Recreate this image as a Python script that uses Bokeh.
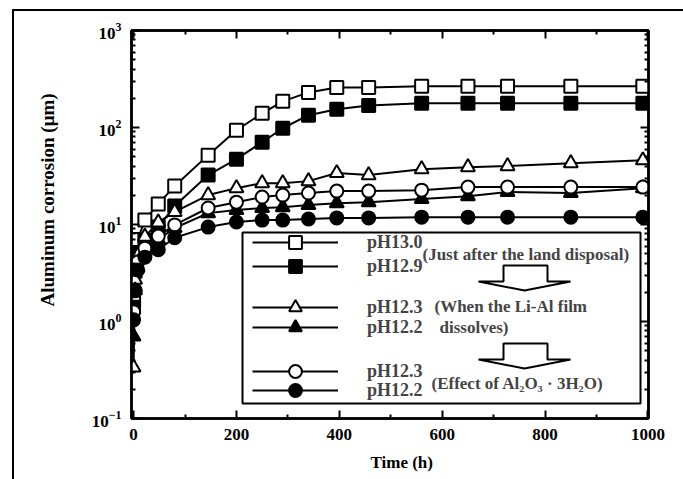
import math
from bokeh.plotting import figure
from bokeh.models import (Legend, LegendItem, Label, PolyAnnotation, FixedTicker,
                          LinearAxis, LogAxis, InlineStyleSheet, Title)
from bokeh.embed import file_html
from bokeh.resources import INLINE

# ---------------- data ----------------
time_h = [0, 3, 8, 22, 48, 80, 145, 200, 250, 290, 340, 395, 457, 560, 650, 727, 850, 990]

ph130_open_sq = [1.7, 4.2, 7.0, 11.1, 16.3, 24.9, 51.9, 93.7, 140, 186, 230, 259, 259, 266, 266, 266, 266, 266]
ph129_fill_sq = [1.4, 3.3, 4.9, 6.9, 9.4, 15.5, 32.3, 47.2, 70.5, 98.2, 134, 154, 169, 178, 178, 178, 178, 178]
ph123_open_tri = [0.335, 2.7, 4.8, 7.5, 10.5, 13.5, 20.1, 23.7, 26.7, 26.7, 28.0, 33.9, 32.3, 37.2, 39.0, 40.0, 42.9, 46.0]
ph122_fill_tri = [0.70, 2.1, 3.6, 5.3, 7.0, 9.2, 13.1, 14.1, 14.8, 15.1, 15.9, 16.6, 17.0, 18.3, 19.6, 21.6, 21.1, 23.7]
ph123_open_cir = [1.26, 2.07, 4.1, 5.7, 7.6, 9.9, 14.8, 17.0, 19.2, 20.1, 21.1, 22.1, 22.1, 22.6, 24.3, 24.3, 24.3, 24.3]
ph122_fill_cir = [1.04, 2.1, 3.4, 4.6, 5.5, 7.3, 9.4, 10.6, 11.1, 11.1, 11.4, 11.7, 11.7, 11.9, 11.9, 11.9, 11.9, 11.9]

series_labels = ["pH13.0", "pH12.9", "pH12.3", "pH12.2", "pH12.3", "pH12.2"]
x_ticks = [0, 200, 400, 600, 800, 1000]
x_minor = [100, 300, 500, 700, 900]
y_decades = [-1, 0, 1, 2, 3]
notes = ["(Just after the land disposal)", "(When the Li-Al  film", "dissolves)",
         "(Effect of Al\u2082O\u2083 \u00b7 3H\u2082O)"]
x_title = "Time (h)"
y_title = "Aluminum corrosion  (\u03bcm)"

SERIF = "Liberation Serif"

page_border = InlineStyleSheet(css="""
:host::after {
  content: ""; position: absolute; left: 12px; top: 9px; width: 720px; height: 520px;
  border-left: 2px solid black; border-top: 2px solid black; pointer-events: none;
}
:host { overflow: hidden; }
""")

p = figure(width=683, height=479, y_axis_type="log", x_range=(-4, 1001), y_range=(0.1, 1000),
           output_backend="svg", toolbar_location=None,
           min_border_left=131, min_border_right=35, min_border_top=30, min_border_bottom=60,
           stylesheets=[page_border])
p.grid.visible = False
p.outline_line_color = "black"
p.outline_line_width = 2.5
p.background_fill_color = "white"
p.border_fill_color = "white"

y_major = [10.0 ** e for e in y_decades]
y_minor = [k * 10.0 ** e for e in y_decades[:-1] for k in range(2, 10)]
xt = FixedTicker(ticks=x_ticks, minor_ticks=x_minor)
yt = FixedTicker(ticks=y_major, minor_ticks=y_minor)
p.xaxis.ticker = xt
p.yaxis.ticker = yt
p.add_layout(LinearAxis(ticker=xt), "above")
p.add_layout(LogAxis(ticker=yt), "right")

for ax in p.axis:
    ax.axis_line_width = 2.5
    ax.major_tick_in = 8
    ax.major_tick_out = 0
    ax.minor_tick_in = 4
    ax.minor_tick_out = 0
    ax.major_tick_line_width = 2
    ax.minor_tick_line_width = 2
    ax.major_label_text_color = None

for ax in (p.below[0], p.left[0]):
    ax.major_label_text_color = "black"
    ax.major_label_text_font = SERIF
    ax.major_label_text_font_style = "bold"
    ax.major_label_text_font_size = "17px"
    ax.major_label_standoff = 10

p.add_layout(Title(text=x_title, align="left", offset=239, standoff=16,
                   text_font=SERIF, text_font_style="bold", text_font_size="17px",
                   text_color="black"), "below")
p.add_layout(Title(text=y_title, align="left", offset=112, standoff=61,
                   text_font=SERIF, text_font_style="bold", text_font_size="19px",
                   text_color="black"), "left")

# ---------------- series ----------------
specs = [
    (ph130_open_sq, "square", "white"),
    (ph129_fill_sq, "square", "black"),
    (ph123_open_tri, "triangle", "white"),
    (ph122_fill_tri, "triangle", "black"),
    (ph123_open_cir, "circle", "white"),
    (ph122_fill_cir, "circle", "black"),
]
lines, marks = [], []
for vals, mk, fc in specs:
    lines.append(p.line(time_h, vals, line_color="black", line_width=2))
for vals, mk, fc in specs:
    sz = 14 if mk == "triangle" else 13
    marks.append(p.scatter(time_h, vals, marker=mk, size=sz, fill_color=fc,
                           line_color="black", line_width=2))

# ---------------- legend box & arrows ----------------
p.add_layout(PolyAnnotation(xs=[242, 640, 640, 242], ys=[232, 232, 403, 403],
                            xs_units="canvas", ys_units="canvas",
                            fill_color="white", fill_alpha=1,
                            line_color="black", line_alpha=1, line_width=2))
for top in (265, 343):
    p.add_layout(PolyAnnotation(
        xs=[503, 547, 547, 570, 524, 478, 503],
        ys=[top, top, top + 16, top + 16, top + 25, top + 16, top + 16],
        xs_units="canvas", ys_units="canvas",
        fill_color="white", fill_alpha=1, line_color="black", line_alpha=1, line_width=2))

row_offsets = [160, 136, 95, 75, 31, 12]   # legend row positions (px above frame bottom)
for i, off in enumerate(row_offsets):
    lg = Legend(items=[LegendItem(label=series_labels[i], renderers=[lines[i], marks[i]])],
                location=(121, off), padding=0, margin=0, spacing=0,
                glyph_width=86, glyph_height=32, label_height=32, label_standoff=29,
                border_line_alpha=0, background_fill_alpha=0,
                label_text_font=SERIF, label_text_font_style="bold", label_text_font_size="18px")
    p.add_layout(lg)

note_pos = [(422, 254), (434, 306), (439, 327), (431, 383)]
for txt, (nx, ny) in zip(notes, note_pos):
    p.add_layout(Label(x=nx, y=ny, x_units="canvas", y_units="canvas", text=txt,
                       text_font=SERIF, text_font_style="bold", text_font_size="17px",
                       text_baseline="middle", text_align="left"))

open("out.html", "w").write(file_html(p, INLINE))
